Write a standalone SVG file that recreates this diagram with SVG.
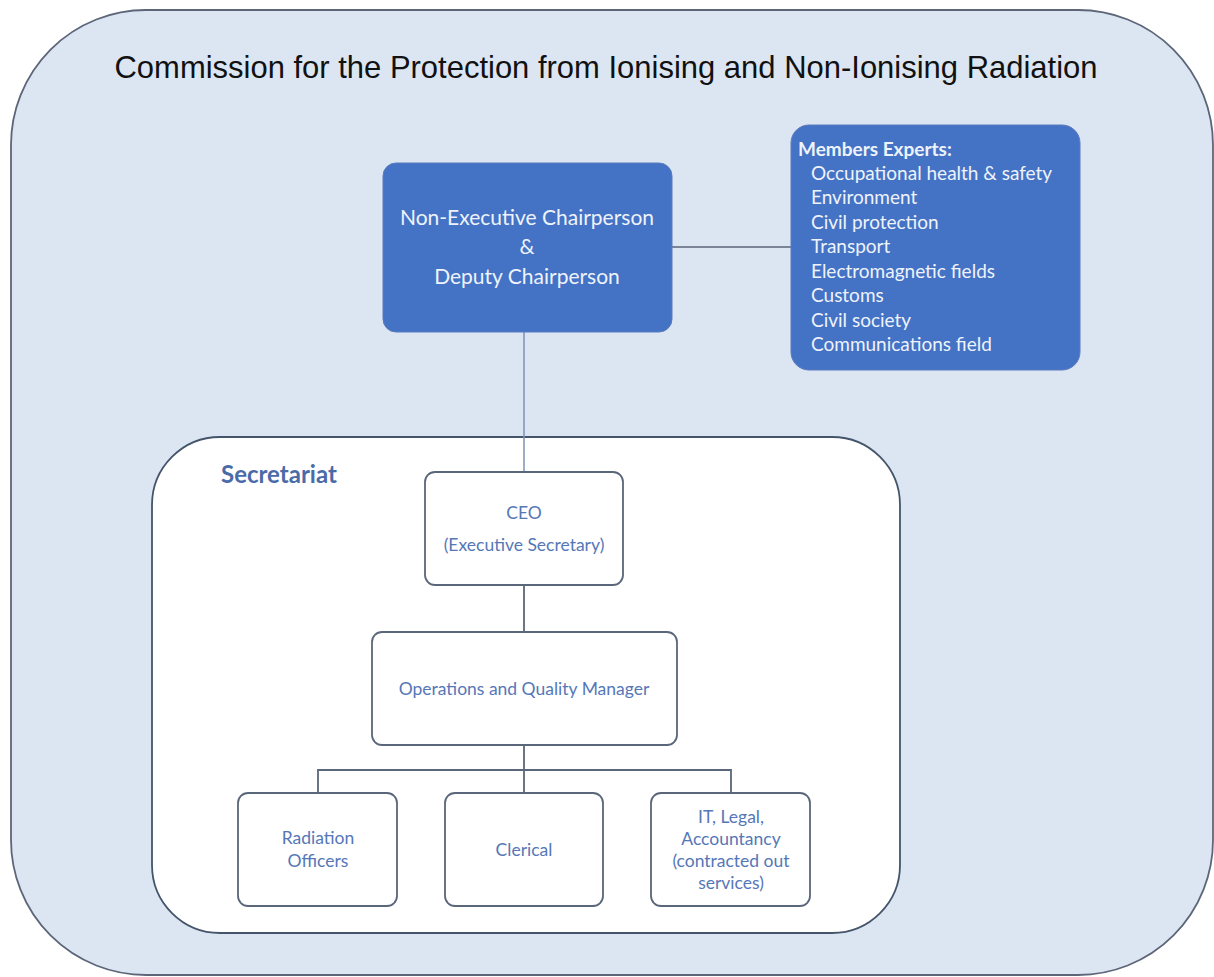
<svg xmlns="http://www.w3.org/2000/svg" width="1214" height="977" viewBox="0 0 1214 977">
<style>
.t{font-family:"Liberation Sans",Arial,sans-serif;fill:#111;}
.c{font-family:Lato,"Open Sans",sans-serif;}
.blue{fill:#4472c4;stroke:#5b7bbf;stroke-width:1;}
.wbox{fill:#ffffff;stroke:#5a6679;stroke-width:1.8;}
.wt{fill:#5577b8;font-size:17.5px;text-anchor:middle;}
.bt{fill:#eef3fb;}
.ln{stroke:#5a6679;stroke-width:1.8;fill:none;}
</style>
<rect id="outer" x="11" y="10" width="1202" height="965" rx="135" ry="135" fill="#dce6f3" stroke="#5d6678" stroke-width="1.8"/>
<text class="t" x="606" y="78" font-size="32" text-anchor="middle" textLength="983" lengthAdjust="spacingAndGlyphs">Commission for the Protection from Ionising and Non-Ionising Radiation</text>
<g id="secretariat">
<rect x="152" y="437" width="748" height="496" rx="68" ry="68" fill="#ffffff" stroke="#44546a" stroke-width="1.8"/>
<text class="c" x="221" y="483" font-size="24" font-weight="bold" fill="#4a6aa8">Secretariat</text>
</g>
<g id="connectors">
<line x1="524" y1="332" x2="524" y2="472" stroke="#7d93b5" stroke-width="1.5"/>
<line x1="672" y1="247" x2="791" y2="247" stroke="#5a6679" stroke-width="1.5"/>
<line class="ln" x1="524" y1="585" x2="524" y2="632"/>
<line class="ln" x1="524" y1="745" x2="524" y2="793"/>
<polyline class="ln" points="318,793 318,770 731,770 731,793"/>
</g>
<g id="chair">
<rect class="blue" x="383" y="163" width="289" height="169" rx="13"/>
<text class="c bt" font-size="21" text-anchor="middle"><tspan x="527" y="225">Non-Executive Chairperson</tspan><tspan x="527" y="254">&amp;</tspan><tspan x="527" y="284">Deputy Chairperson</tspan></text>
</g>
<g id="members">
<rect class="blue" x="791" y="125" width="289" height="245" rx="18"/>
<text class="c bt" font-size="19">
<tspan x="798" y="156" font-weight="bold">Members Experts:</tspan>
<tspan x="811" y="180">Occupational health &amp; safety</tspan>
<tspan x="811" y="204">Environment</tspan>
<tspan x="811" y="229">Civil protection</tspan>
<tspan x="811" y="253">Transport</tspan>
<tspan x="811" y="278">Electromagnetic fields</tspan>
<tspan x="811" y="302">Customs</tspan>
<tspan x="811" y="327">Civil society</tspan>
<tspan x="811" y="351">Communications field</tspan>
</text>
</g>
<g id="ceo">
<rect class="wbox" x="425" y="472" width="198" height="113" rx="10"/>
<text class="c wt"><tspan x="524" y="519">CEO</tspan><tspan x="524" y="551">(Executive Secretary)</tspan></text>
</g>
<g id="ops">
<rect class="wbox" x="372" y="632" width="305" height="113" rx="10"/>
<text class="c wt" x="524" y="695">Operations and Quality Manager</text>
</g>
<g id="radiation">
<rect class="wbox" x="238" y="793" width="159" height="113" rx="10"/>
<text class="c wt"><tspan x="318" y="844">Radiation</tspan><tspan x="318" y="867">Officers</tspan></text>
</g>
<g id="clerical">
<rect class="wbox" x="445" y="793" width="158" height="113" rx="10"/>
<text class="c wt" x="524" y="856">Clerical</text>
</g>
<g id="it">
<rect class="wbox" x="651" y="793" width="159" height="113" rx="10"/>
<text class="c wt"><tspan x="731" y="823">IT, Legal,</tspan><tspan x="731" y="845">Accountancy</tspan><tspan x="731" y="867">(contracted out</tspan><tspan x="731" y="889">services)</tspan></text>
</g>
</svg>
